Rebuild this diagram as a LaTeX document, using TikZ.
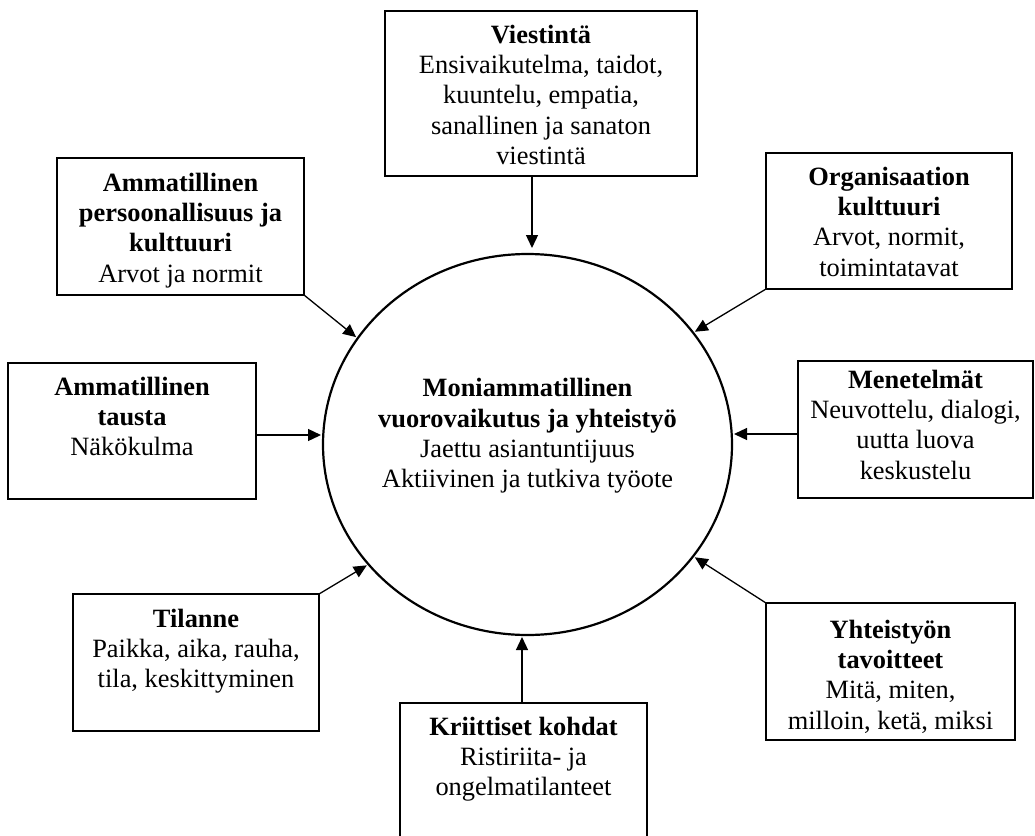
\documentclass[tikz,border=0pt]{standalone}
\usepackage{fontspec}
\setmainfont{Liberation Serif}
\usetikzlibrary{arrows.meta,shapes.geometric}
\newcommand\mybox[4]{\parbox[c][#2][t]{#1}{\centering\rule{0pt}{#3}#4}}
\begin{document}
\begin{tikzpicture}[x=0.5pt,y=-0.5pt,
  box/.style={draw=black, line width=0.65pt, inner sep=0pt, outer sep=0pt, anchor=north west, font=\fontsize{13.2}{15.2}\selectfont},
  arr/.style={line width=0.65pt, shorten >=1pt, -{Triangle[length=6.5pt,width=6pt]}},
  hub/.style={draw=black, ellipse, line width=1.1pt, minimum width=204.5pt, minimum height=190.5pt, inner sep=0pt, outer sep=0pt, font=\fontsize{13.2}{15.2}\selectfont}]
\useasboundingbox (0,0) rectangle (1035,836);

\node[hub] (c) at (527.5,444.5) {\makebox[0pt]{\mybox{170pt}{79.8pt}{16pt}{\textbf{Moniammatillinen}\\\textbf{vuorovaikutus ja yhteistyö}\\Jaettu asiantuntijuus\\Aktiivinen ja tutkiva työote}}};

\node[box] (vie) at (385,11) {\mybox{156pt}{82.5pt}{16pt}{\textbf{Viestintä}\\Ensivaikutelma, taidot,\\kuuntelu, empatia,\\sanallinen ja sanaton\\viestintä}};
\node[box] (per) at (57,158) {\mybox{123.5pt}{68.5pt}{16.5pt}{\textbf{Ammatillinen}\\\textbf{persoonallisuus ja}\\\textbf{kulttuuri}\\Arvot ja normit}};
\node[box] (org) at (766,153) {\mybox{123pt}{68pt}{16pt}{\textbf{Organisaation}\\\textbf{kulttuuri}\\Arvot, normit,\\toimintatavat}};
\node[box] (tau) at (8,363) {\mybox{124pt}{68pt}{16pt}{\textbf{Ammatillinen}\\\textbf{tausta}\\Näkökulma}};
\node[box] (men) at (798,361) {\mybox{117.5pt}{68.5pt}{13.5pt}{\textbf{Menetelmät}\\Neuvottelu, dialogi,\\uutta luova\\keskustelu}};
\node[box] (til) at (73,594) {\mybox{123pt}{68.5pt}{16.5pt}{\textbf{Tilanne}\\Paikka, aika, rauha,\\tila, keskittyminen}};
\node[box] (kri) at (400,703) {\mybox{123.5pt}{70pt}{16pt}{\textbf{Kriittiset kohdat}\\Ristiriita- ja\\ongelmatilanteet}};
\node[box] (yht) at (766,603) {\mybox{124.5pt}{68.5pt}{17.5pt}{\textbf{Yhteistyön}\\\textbf{tavoitteet}\\Mitä, miten,\\milloin, ketä, miksi}};

\draw[arr, shorten >=3pt] ([xshift=-4.5pt]vie.south) -- ([xshift=-4.5pt]vie.south |- c.north);
\draw[arr] (per.south east) -- (c.148);
\draw[arr] (org.south west) -- (c.34);
\draw[arr] ([yshift=-2pt]tau.east) -- ([yshift=-2pt]tau.east -| c.west);
\draw[arr] ([yshift=-2.25pt]men.west) -- ([yshift=-2.25pt]men.west -| c.east);
\draw[arr] (til.north east) -- (c.217);
\draw[arr] ([xshift=-0.75pt]kri.north) -- ([xshift=-0.75pt]kri.north |- c.south);
\draw[arr] (yht.north west) -- (c.326);
\end{tikzpicture}
\end{document}
